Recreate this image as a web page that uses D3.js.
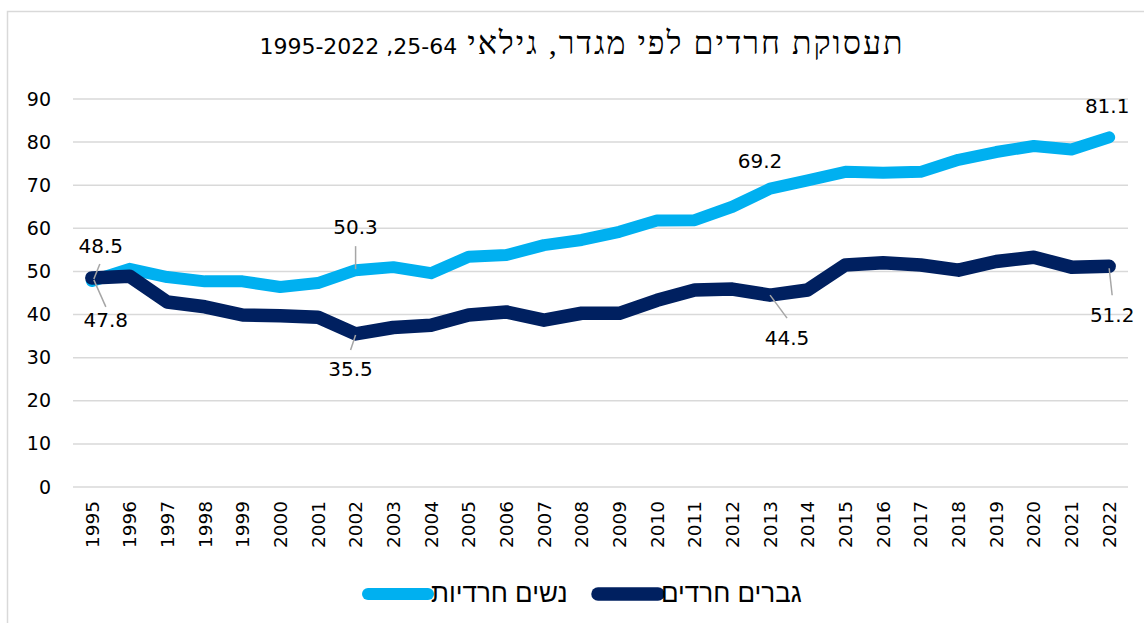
<!DOCTYPE html>
<html>
<head>
<meta charset="utf-8">
<script src="https://cdn.jsdelivr.net/npm/d3@7"></script>
<style>
  body { margin: 0; background: #fff; }
  svg { display: block; }
</style>
</head>
<body>
<script>
const years = [1995, 1996, 1997, 1998, 1999, 2000, 2001, 2002, 2003, 2004, 2005, 2006, 2007,
  2008, 2009, 2010, 2011, 2012, 2013, 2014, 2015, 2016, 2017, 2018, 2019, 2020, 2021, 2022];
const women = [47.8, 50.6, 48.7, 47.7, 47.7, 46.4, 47.3, 50.3, 51.0, 49.6, 53.4, 53.8, 56.1,
  57.3, 59.2, 61.8, 61.9, 65.0, 69.2, 71.1, 73.1, 72.9, 73.1, 75.9, 77.7, 79.1, 78.3, 81.1];
const men = [48.5, 48.9, 42.9, 41.8, 39.9, 39.7, 39.4, 35.5, 37.0, 37.5, 39.9, 40.6, 38.7,
  40.3, 40.3, 43.3, 45.7, 45.9, 44.5, 45.7, 51.5, 52.0, 51.5, 50.3, 52.3, 53.3, 51.0, 51.2];
const yTicks = [0, 10, 20, 30, 40, 50, 60, 70, 80, 90];
// title in two parts: hebrew words, then the number ranges
const titleWords = "תעסוקת חרדים לפי מגדר, גילאי ";
const titleNums = "25-64, 1995-2022";
const seriesNames = ["נשים חרדיות", "גברים חרדים"];

// which points carry a value label (series index, year)
const labelled = [
  { s: 0, year: 1995 }, { s: 1, year: 1995 },
  { s: 0, year: 2002 }, { s: 1, year: 2002 },
  { s: 0, year: 2013 }, { s: 1, year: 2013 },
  { s: 0, year: 2022 }, { s: 1, year: 2022 }
];
// label placement relative to the point: text offset, optional leader line
const placement = [
  { dx: 14, dy: 46, lead: [[2, -1], [14, 26]] },
  { dx: 9, dy: -25, lead: [[2, 1], [8, -14]] },
  { dx: 0, dy: -36, lead: [[0, -1], [0, -24]] },
  { dx: -5, dy: 42, lead: [[0, 1], [-5, 16]] },
  { dx: -10, dy: -21, lead: null },
  { dx: 17, dy: 50, lead: [[0, 0], [17, 23]] },
  { dx: -2, dy: -24, lead: null },
  { dx: 3, dy: 56, lead: [[0, 2], [3, 29]] }
];

const W = 1144, H = 623;
const colors = ["#00b0f0", "#002060"];
const widths = [12, 13.5];

const svg = d3.select("body").append("svg")
  .attr("width", W)
  .attr("height", H);

svg.append("rect")
  .attr("x", 7.5).attr("y", 11.5)
  .attr("width", 1160).attr("height", 640)
  .attr("fill", "none")
  .attr("stroke", "#d9d9d9")
  .attr("stroke-width", 1.5);

const x = d3.scaleBand().domain(years).range([73, 1128]);
const cx = d => x(d) + x.bandwidth() / 2;
const y = d3.scaleLinear().domain([0, 90]).range([487, 99]);

const t = svg.append("text")
  .attr("x", 582)
  .attr("y", 54)
  .attr("text-anchor", "middle")
  .attr("direction", "rtl")
  .attr("fill", "#000");
t.append("tspan")
  .style("font-family", "Liberation Serif, serif")
  .style("font-size", "32px")
  .style("letter-spacing", "2px")
  .text(titleWords);
t.append("tspan")
  .style("font-family", "DejaVu Sans, sans-serif")
  .style("font-size", "22px")
  .style("font-weight", "500")
  .text(titleNums);

// grid
svg.append("g")
  .selectAll("line")
  .data(yTicks)
  .join("line")
    .attr("x1", 73).attr("x2", 1128)
    .attr("y1", d => y(d)).attr("y2", d => y(d))
    .attr("stroke", "#d9d9d9")
    .attr("stroke-width", 1.5);

const yAxis = svg.append("g")
  .attr("transform", "translate(73,0)")
  .call(d3.axisLeft(y).tickValues(yTicks).tickSize(0).tickPadding(22));
yAxis.select(".domain").remove();
yAxis.selectAll("text")
  .style("font-family", "DejaVu Sans, sans-serif")
  .style("font-size", "19px")
  .attr("fill", "#000");

const xAxis = svg.append("g")
  .attr("transform", "translate(0,487)")
  .call(d3.axisBottom(x).tickSize(0));
xAxis.select(".domain").remove();
xAxis.selectAll("text")
  .attr("transform", "rotate(-90)")
  .attr("text-anchor", "end")
  .attr("x", -14)
  .attr("y", 0)
  .attr("dy", "0.36em")
  .style("font-family", "DejaVu Sans, sans-serif")
  .style("font-size", "18.5px")
  .attr("fill", "#000");

const line = d3.line()
  .x((d, i) => cx(years[i]))
  .y(d => y(d));

[women, men].forEach((vals, s) => {
  svg.append("path")
    .datum(vals)
    .attr("d", line)
    .attr("fill", "none")
    .attr("stroke", colors[s])
    .attr("stroke-width", widths[s])
    .attr("stroke-linejoin", "round")
    .attr("stroke-linecap", "round");
});

// value labels
const series = [women, men];
labelled.forEach((l, i) => {
  const p = placement[i];
  const v = series[l.s][years.indexOf(l.year)];
  const px = cx(l.year), py = y(v);
  if (p.lead) {
    svg.append("line")
      .attr("x1", px + p.lead[0][0]).attr("y1", py + p.lead[0][1])
      .attr("x2", px + p.lead[1][0]).attr("y2", py + p.lead[1][1])
      .attr("stroke", "#a6a6a6")
      .attr("stroke-width", 1.5);
  }
  svg.append("text")
    .attr("x", px + p.dx)
    .attr("y", py + p.dy)
    .attr("text-anchor", "middle")
    .style("font-family", "DejaVu Sans, sans-serif")
    .style("font-size", "20px")
    .attr("fill", "#000")
    .text(v.toFixed(1));
});

// legend: line, then the name right next to it
const legend = [{ s: 0, x1: 368, x2: 428 }, { s: 1, x1: 598, x2: 658 }];
legend.forEach(d => {
  svg.append("line")
    .attr("x1", d.x1).attr("x2", d.x2)
    .attr("y1", 594).attr("y2", 594)
    .attr("stroke", colors[d.s])
    .attr("stroke-width", widths[d.s])
    .attr("stroke-linecap", "round");
  svg.append("text")
    .attr("x", d.x2 + 3)
    .attr("y", 602)
    .attr("text-anchor", "end")
    .attr("direction", "rtl")
    .style("font-family", "Liberation Sans, Arial, sans-serif")
    .style("font-size", "26px")
    .attr("fill", "#000")
    .text(seriesNames[d.s]);
});
</script>
</body>
</html>
